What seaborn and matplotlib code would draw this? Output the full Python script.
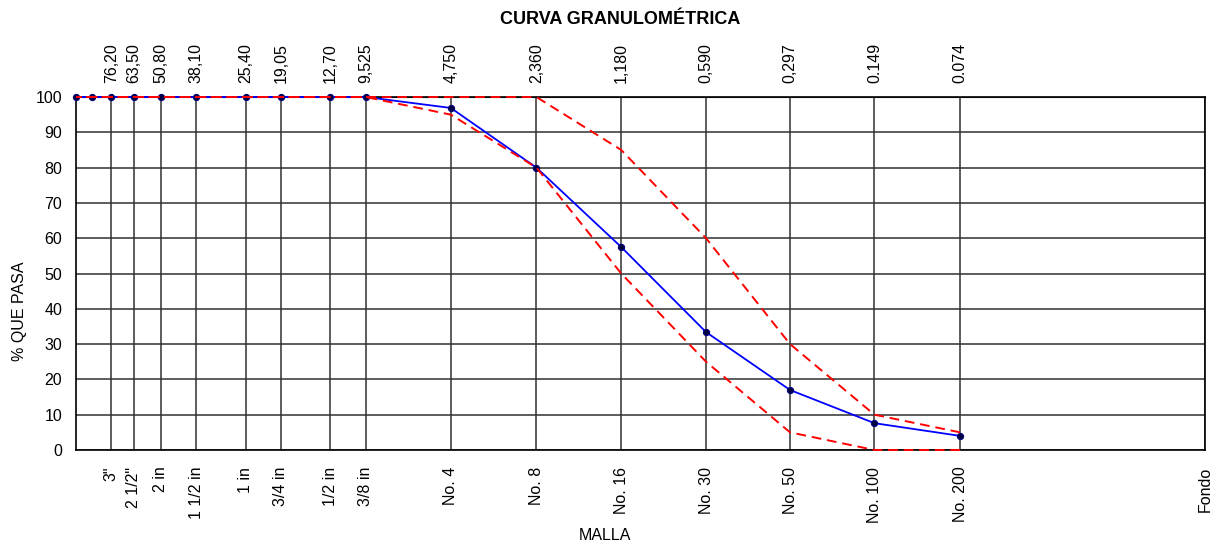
import matplotlib
matplotlib.use('Agg')
import matplotlib.pyplot as plt
import seaborn as sns
from matplotlib.ticker import FixedLocator, NullLocator

# tamices (abertura en mm) y % que pasa
sizes_mm = [101.6, 88.9, 76.2, 63.5, 50.8, 38.1, 25.4, 19.05, 12.7, 9.525,
            4.75, 2.36, 1.18, 0.59, 0.297, 0.149, 0.074]
pct_pasa = [100, 100, 100, 100, 100, 100, 100, 100, 100, 100,
            96.9, 80.0, 57.5, 33.4, 17.0, 7.6, 4.0]
lim_sup = [100, 100, 100, 100, 100, 100, 100, 100, 100, 100,
           100, 100, 85, 60, 30, 10, 5]
lim_inf = [100, 100, 100, 100, 100, 100, 100, 100, 100, 100,
           95, 80, 50, 25, 5, 0, 0]

# ejes x: mallas
grid_sizes = [76.2, 63.5, 50.8, 38.1, 25.4, 19.05, 12.7, 9.525,
              4.75, 2.36, 1.18, 0.59, 0.297, 0.149, 0.074, 0.01]
malla_labels = ['3"', '2 1/2"', '2 in', '1 1/2 in', '1 in', '3/4 in', '1/2 in', '3/8 in',
                'No. 4', 'No. 8', 'No. 16', 'No. 30', 'No. 50', 'No. 100', 'No. 200', 'Fondo']
mm_labels = ['76,20', '63,50', '50,80', '38,10', '25,40', '19,05', '12,70', '9,525',
             '4,750', '2,360', '1,180', '0,590', '0,297', '0.149', '0.074', '']

sns.set_style('white')
plt.rcParams['font.family'] = ['Liberation Sans', 'DejaVu Sans']
plt.rcParams['font.size'] = 11.5
for k in ['text.color', 'axes.labelcolor', 'xtick.color', 'ytick.color']:
    plt.rcParams[k] = 'black'

fig = plt.figure(figsize=(12.2, 5.45), dpi=100)
ax = fig.add_axes([76 / 1220, 95 / 545, (1205 - 76) / 1220, (450 - 97) / 545])

sns.lineplot(x=sizes_mm, y=pct_pasa, ax=ax, color='blue', linewidth=1.3,
             marker='o', markersize=4.5, markerfacecolor='#000040',
             markeredgecolor='#000080', zorder=3, clip_on=False)
sns.lineplot(x=sizes_mm, y=lim_sup, ax=ax, color='red', linewidth=1.4,
             linestyle=(0, (5, 3)), zorder=4, clip_on=False)
sns.lineplot(x=sizes_mm, y=lim_inf, ax=ax, color='red', linewidth=1.4,
             linestyle=(0, (5, 3)), zorder=4, clip_on=False)

ax.set_xscale('log')
ax.set_xlim(101.6, 0.01)
ax.set_ylim(0, 100)
ax.xaxis.set_major_locator(FixedLocator(grid_sizes))
ax.xaxis.set_minor_locator(NullLocator())
ax.set_xticklabels(malla_labels, rotation=90)
ax.set_yticks(range(0, 101, 10))
ax.tick_params(axis='x', length=0, pad=12, labelsize=11.5)
ax.tick_params(axis='y', length=0, pad=10, labelsize=11.5)
ax.grid(True, color='#303030', linewidth=1.1)

for s in ax.spines.values():
    s.set_color('black')
    s.set_linewidth(1.2)

top = ax.secondary_xaxis('top')
top.xaxis.set_major_locator(FixedLocator(grid_sizes))
top.xaxis.set_minor_locator(NullLocator())
top.set_xticklabels(mm_labels, rotation=90)
top.tick_params(axis='x', length=0, pad=10, labelsize=11.5)

ax.set_xlabel('MALLA', fontsize=11.5)
ax.set_ylabel('% QUE PASA', fontsize=11.5)
ax.xaxis.set_label_coords((605 - 76) / 1129, -(535 - 450) / 353)
ax.yaxis.set_label_coords(-(76 - 19.5) / 1129, (450 - 311) / 353)
ax.xaxis.label.set_va('center')
ax.yaxis.label.set_va('center')
fig.text(620 / 1220, 1 - 20 / 545, 'CURVA GRANULOMÉTRICA', ha='center', va='center',
         fontsize=13, fontweight='bold')

fig.savefig('out.png', dpi=100)
